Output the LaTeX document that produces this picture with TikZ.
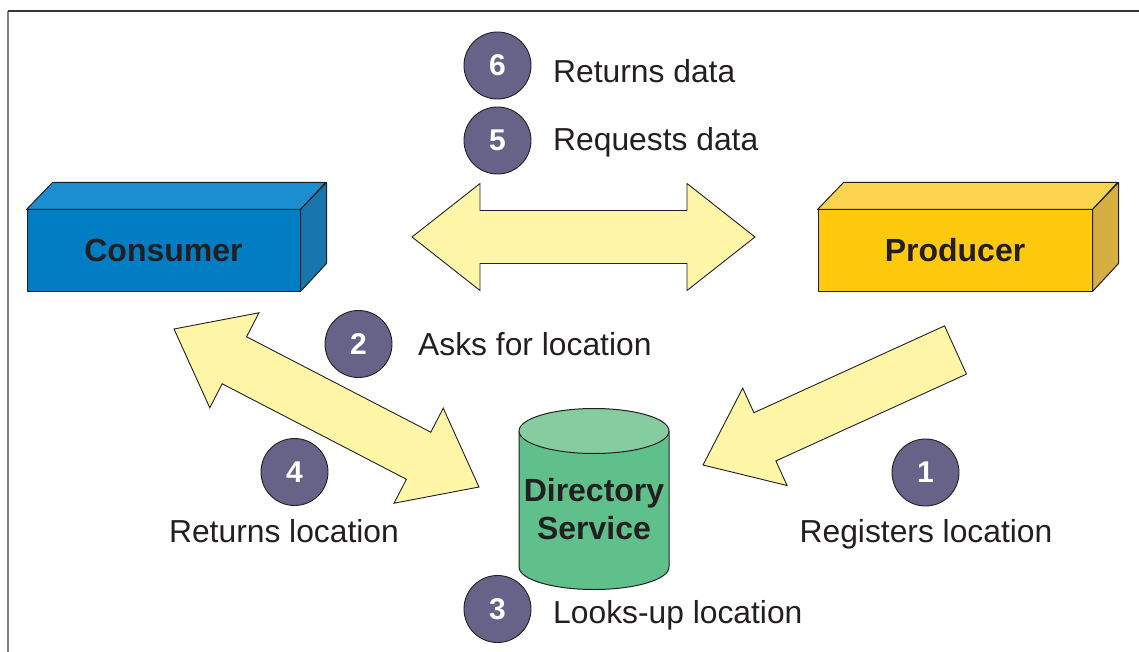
\documentclass[tikz,border=0pt]{standalone}
\usepackage{fontspec}
\setmainfont{Liberation Sans}
\usetikzlibrary{calc,positioning}
\definecolor{nink}{HTML}{231F20}
\definecolor{cfront}{HTML}{007DC3}
\definecolor{ctop}{HTML}{1A8ECF}
\definecolor{cside}{HTML}{1976AD}
\definecolor{pfront}{HTML}{FFC90D}
\definecolor{ptop}{HTML}{FDD44D}
\definecolor{pside}{HTML}{D5B040}
\definecolor{dbody}{HTML}{5FC08C}
\definecolor{dtop}{HTML}{85CC9F}
\definecolor{narrow}{HTML}{FFF6A8}
\definecolor{ndot}{HTML}{676388}

\begin{document}
\begin{tikzpicture}[x=1pt,y=-1pt,
  fatarrow/.style={fill=narrow, draw=nink, line width=0.9pt, line join=miter},
  numdot/.style={circle, fill=ndot, draw=nink, line width=0.9pt, minimum size=67pt,
    inner sep=0pt, text=white, font=\fontsize{30}{30}\selectfont\bfseries},
  steplabel/.style={inner sep=0pt, text=nink, font=\fontsize{31.8}{38}\selectfont},
  boxface/.style={draw=nink, line width=1pt, line join=round},
  boxlabel/.style={text=nink, inner sep=0pt, font=\fontsize{32}{38}\selectfont\bfseries}]
 \useasboundingbox (0,0) rectangle (1139,652);
 % frame
 \draw[black!50, line width=1.5pt] (8,11) -- (8,652);
 \draw[nink!90, line width=1.3pt] (8,11) -- (1139,11);

 % consumer box
 \node[boxface, fill=cfront, minimum width=273pt, minimum height=81pt, boxlabel] (consumer) at (163.5,250.5) {Consumer};
 \draw[boxface, fill=ctop] (consumer.north west) -- ++(26,-27) -- ++(273,0) -- (consumer.north east) -- cycle;
 \draw[boxface, fill=cside] (consumer.north east) -- ++(26,-27) -- ++(0,81) -- (consumer.south east) -- cycle;

 % producer box
 \node[boxface, fill=pfront, minimum width=274pt, minimum height=81pt, boxlabel] (producer) at (955,250.5) {Producer};
 \draw[boxface, fill=ptop] (producer.north west) -- ++(26,-27) -- ++(274,0) -- (producer.north east) -- cycle;
 \draw[boxface, fill=pside] (producer.north east) -- ++(26,-27) -- ++(0,81) -- (producer.south east) -- cycle;

 % directory service
 \draw[boxface, fill=dbody] (519,431) -- (519,567) arc[start angle=180, end angle=360, x radius=75pt, y radius=22.5pt] -- (669,431);
 \draw[boxface, fill=dtop] (594,431) ellipse[x radius=75pt, y radius=22.5pt];
 \node[boxlabel, align=center] (dirsvc) at (594,509.5) {Directory\\Service};

 % block arrows
 \coordinate (hl) at (412,237);
 \coordinate (hr) at (755,237);
 \draw[fatarrow] (hl) -- ($(hl)!68pt!(hr)!53.5pt!90:(hr)$) -- ($(hl)!68pt!(hr)!26.5pt!90:(hr)$)
  -- ($(hr)!68pt!(hl)!26.5pt!-90:(hl)$) -- ($(hr)!68pt!(hl)!53.5pt!-90:(hl)$) -- (hr)
  -- ($(hr)!68pt!(hl)!53.5pt!90:(hl)$) -- ($(hr)!68pt!(hl)!26.5pt!90:(hl)$)
  -- ($(hl)!68pt!(hr)!26.5pt!-90:(hr)$) -- ($(hl)!68pt!(hr)!53.5pt!-90:(hr)$) -- cycle;

 \coordinate (dl) at (174,329);
 \coordinate (dr) at (479,487);
 \draw[fatarrow] (dl) -- ($(dl)!68pt!(dr)!53.5pt!90:(dr)$) -- ($(dl)!68pt!(dr)!26.5pt!90:(dr)$)
  -- ($(dr)!68pt!(dl)!26.5pt!-90:(dl)$) -- ($(dr)!68pt!(dl)!53.5pt!-90:(dl)$) -- (dr)
  -- ($(dr)!68pt!(dl)!53.5pt!90:(dl)$) -- ($(dr)!68pt!(dl)!26.5pt!90:(dl)$)
  -- ($(dl)!68pt!(dr)!26.5pt!-90:(dr)$) -- ($(dl)!68pt!(dr)!53.5pt!-90:(dr)$) -- cycle;

 \coordinate (st) at (703,465);
 \coordinate (stail) at (955.5,350);
 \draw[fatarrow] (st) -- ($(st)!68pt!(stail)!53.5pt!90:(stail)$) -- ($(st)!68pt!(stail)!26.5pt!90:(stail)$)
  -- ($(stail)!26.5pt!-90:(st)$) -- ($(stail)!26.5pt!90:(st)$)
  -- ($(st)!68pt!(stail)!26.5pt!-90:(stail)$) -- ($(st)!68pt!(stail)!53.5pt!-90:(stail)$) -- cycle;

 % numbered steps
 \node[numdot] (n1) at (925.5,472.5) {1};
 \node[numdot] (n2) at (358.5,344) {2};
 \node[numdot] (n3) at (497.5,609) {3};
 \node[numdot] (n4) at (294.5,472) {4};
 \node[numdot] (n5) at (497.5,140.5) {5};
 \node[numdot] (n6) at (497.5,65.5) {6};

 \node[steplabel, anchor=base] (l1) at (926,542) {Registers location};
 \node[steplabel, anchor=base west] (l2) at (418,355) {Asks for location};
 \node[steplabel, anchor=base west] (l3) at (553,623) {Looks-up location};
 \node[steplabel, anchor=base] (l4) at (284,542) {Returns location};
 \node[steplabel, anchor=base west] (l5) at (553,151) {Requests data};
 \node[steplabel, anchor=base west] (l6) at (553,83) {Returns data};
\end{tikzpicture}
\end{document}
